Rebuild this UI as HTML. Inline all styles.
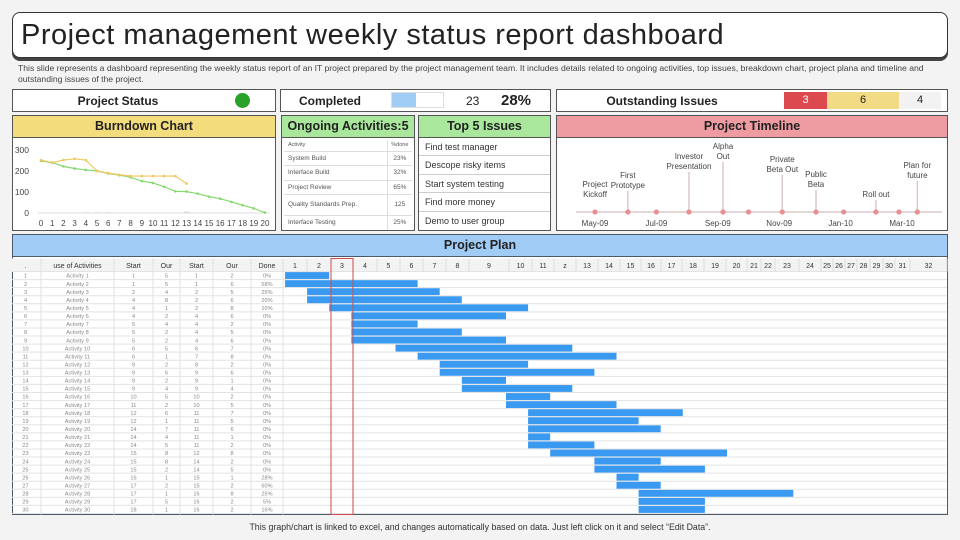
<!DOCTYPE html>
<html><head><meta charset="utf-8">
<style>
*{box-sizing:border-box;margin:0;padding:0}
body{width:960px;height:540px;overflow:hidden;background:#f3f3f3;font-family:"Liberation Sans",sans-serif;position:relative;color:#222}
.abs{position:absolute}
.box{position:absolute;background:#fff;border:1.5px solid #555}
.hdr{position:absolute;left:0;right:0;top:0;height:22px;border-bottom:1.5px solid #555;font-size:12.5px;font-weight:bold;text-align:center;line-height:21px;color:#222}
svg text{font-family:"Liberation Sans",sans-serif}
</style></head><body>
<div class="abs" style="left:12px;top:12px;width:936px;height:46px;background:#fff;border:1.5px solid #333;border-radius:8px;box-shadow:0 3px 0 #444">
<div style="position:absolute;left:8px;top:6px;font-size:29px;letter-spacing:0.5px;color:#222;white-space:nowrap">Project management weekly status report dashboard</div></div>
<div class="abs" style="left:18px;top:63px;width:930px;font-size:8.6px;line-height:10.5px;color:#444">This slide represents a dashboard representing the weekly status report of an IT project prepared by the project management team. It includes details related to ongoing activities, top issues, breakdown chart, project plana and timeline and outstanding issues of the project.</div>

<div class="box" style="left:12px;top:89px;width:264px;height:23px">
<div style="position:absolute;left:0;width:210px;top:4px;text-align:center;font-size:12px;font-weight:bold">Project Status</div>
<div style="position:absolute;left:222px;top:3px;width:15px;height:15px;border-radius:50%;background:#2aa22a"></div></div>
<div class="box" style="left:280px;top:89px;width:271px;height:23px">
<div style="position:absolute;left:18px;top:4px;font-size:12px;font-weight:bold">Completed</div>
<div style="position:absolute;left:110px;top:2px;width:53px;height:16px;border:1px solid #ddd;background:#fff"><div style="width:24px;height:100%;background:#9fcdf6"></div></div>
<div style="position:absolute;left:185px;top:4px;font-size:12px">23</div>
<div style="position:absolute;left:220px;top:2px;font-size:15px;font-weight:bold">28%</div></div>
<div class="box" style="left:556px;top:89px;width:392px;height:23px">
<div style="position:absolute;left:0;width:210px;top:4px;text-align:center;font-size:12px;font-weight:bold">Outstanding Issues</div>
<div style="position:absolute;left:227px;top:2px;width:43px;height:17px;background:#dc4a4f;color:#fff;text-align:center;font-size:11px;line-height:17px">3</div>
<div style="position:absolute;left:270px;top:2px;width:72px;height:17px;background:#f1dc85;text-align:center;font-size:11px;line-height:17px">6</div>
<div style="position:absolute;left:342px;top:2px;width:42px;height:17px;background:#f2f2f2;text-align:center;font-size:11px;line-height:17px">4</div></div>

<div class="box" style="left:12px;top:115px;width:264px;height:116px">
<div class="hdr" style="background:#f2dc7c">Burndown Chart</div>
<svg id="bd" width="264" height="94" style="position:absolute;left:-1.5px;top:21px"></svg></div>

<div class="box" style="left:281px;top:115px;width:134px;height:116px">
<div class="hdr" style="background:#a9e79d">Ongoing Activities:5</div>
<table style="position:absolute;left:2px;top:24px;width:128px;border-collapse:collapse;font-size:6.5px;color:#555">
<tr style="height:11px"><td style="border-bottom:1px solid #ddd;border-right:1px solid #ddd;padding-left:4px;font-size:5.5px">Activity</td><td style="border-bottom:1px solid #ddd;text-align:center;font-size:5.5px">%done</td></tr>
<tr style="height:14px"><td style="border-bottom:1px solid #ddd;border-right:1px solid #ddd;padding-left:4px">System Build</td><td style="border-bottom:1px solid #ddd;text-align:center">23%</td></tr>
<tr style="height:15px"><td style="border-bottom:1px solid #ddd;border-right:1px solid #ddd;padding-left:4px">Interface Build</td><td style="border-bottom:1px solid #ddd;text-align:center">32%</td></tr>
<tr style="height:14px"><td style="border-bottom:1px solid #ddd;border-right:1px solid #ddd;padding-left:4px">Project Review</td><td style="border-bottom:1px solid #ddd;text-align:center">65%</td></tr>
<tr style="height:21px"><td style="border-bottom:1px solid #ddd;border-right:1px solid #ddd;padding-left:4px">Quality Standards Prep.</td><td style="border-bottom:1px solid #ddd;text-align:center">125</td></tr>
<tr style="height:15px"><td style="border-right:1px solid #ddd;padding-left:4px">Interface Testing</td><td style="text-align:center">25%</td></tr>
</table></div>

<div class="box" style="left:418px;top:115px;width:133px;height:116px">
<div class="hdr" style="background:#a9e79d">Top 5 Issues</div>
<div style="position:absolute;left:0;right:0;top:22px;font-size:9px;color:#333">
<div style="height:18.4px;line-height:18px;padding-left:6px;border-bottom:1px solid #ccc">Find test manager</div>
<div style="height:18.4px;line-height:18px;padding-left:6px;border-bottom:1px solid #ccc">Descope risky items</div>
<div style="height:18.4px;line-height:18px;padding-left:6px;border-bottom:1px solid #ccc">Start system testing</div>
<div style="height:18.4px;line-height:18px;padding-left:6px;border-bottom:1px solid #ccc">Find more money</div>
<div style="height:18px;line-height:18px;padding-left:6px">Demo to user group</div></div></div>

<div class="box" style="left:556px;top:115px;width:392px;height:116px">
<div class="hdr" style="background:#ee9ba1">Project Timeline</div>
<svg id="tl" width="392" height="94" style="position:absolute;left:-1.5px;top:21px"></svg></div>

<div class="box" style="left:12px;top:234px;width:936px;height:281px;border-color:#4b5a6a">
<div class="hdr" style="background:#9fcbf5;border-color:#4b5a6a">Project Plan</div>
<svg id="gp" width="936" height="260" style="position:absolute;left:-1.5px;top:20.5px"></svg></div>

<div class="abs" style="left:0;width:960px;top:522px;text-align:center;font-size:8.8px;color:#333">This graph/chart is linked to excel, and changes automatically based on data. Just left click on it and select “Edit Data”.</div>

<script>
const NS='http://www.w3.org/2000/svg';
function mk(p,t,a){const e=document.createElementNS(NS,t);for(const k in a)e.setAttribute(k,a[k]);p.appendChild(e);return e;}

/* ---------- Burndown data ---------- */
const bdDays=[0,1,2,3,4,5,6,7,8,9,10,11,12,13,14,15,16,17,18,19,20];
const bdIdeal=[248,240,222,212,205,200,188,180,170,152,143,125,103,102,92,78,68,53,37,22,2];
const bdActual=[252,240,252,258,252,200,190,182,176,176,176,176,176,140];
const bdBars=[0,3,3,0,4,4,4,3,0,0,0,0,0,7];
const bdTicks=[0,100,200,300];
(function(){
const s=document.getElementById('bd');
const X=d=>29+d*11.2;
const y=v=>76-v*0.21;
bdTicks.forEach(t=>{const e=mk(s,'text',{x:17,y:y(t)+3,'text-anchor':'end','font-size':8.5,fill:'#444'});e.textContent=t;
});
mk(s,'line',{x1:26,x2:258,y1:y(0),y2:y(0),stroke:'#ddd','stroke-width':1});
bdDays.forEach(d=>{const e=mk(s,'text',{x:X(d),y:89,'text-anchor':'middle','font-size':8,fill:'#444'});e.textContent=d;
});
bdBars.forEach((v,i)=>{if(!v)return;const r=mk(s,'rect',{x:X(i)-3,y:y(v),width:6,height:v*0.21,fill:'#ddd'});
});
function line(arr,col,name){const p=mk(s,'polyline',{points:arr.map((v,i)=>X(i)+','+y(v)).join(' '),fill:'none',stroke:col,'stroke-width':1.2});

arr.forEach((v,i)=>{const c=mk(s,'circle',{cx:X(i),cy:y(v),r:1.3,fill:col});});}
line(bdIdeal,'#86d96f','ideal-line');
line(bdActual,'#f0c860','actual-line');
})();

/* ---------- Timeline data ---------- */
const tlPoints=[0,1.07,2,3.06,4.17,5,6.1,7.2,8.1,9.15,9.9,10.5];
const tlTickMonths=[0,2,4,6,8,10];
const tlTickLabels=['May-09','Jul-09','Sep-09','Nov-09','Jan-10','Mar-10'];
const tlEvents=['Project|Kickoff','First|Prototype','Investor|Presentation','Alpha|Out','Private|Beta Out','Public|Beta','Roll out','Plan  for|future'];
const tlEventMonths=[0,1.07,3.06,4.17,6.1,7.2,9.15,10.5];
const tlEventHeights=[0,21,40,50,37,22,12,31];
(function(){
const s=document.getElementById('tl');
const X=m=>39+m*30.7, base=75;
mk(s,'line',{x1:20,x2:386,y1:base,y2:base,stroke:'#e2d6d6','stroke-width':2});
tlEvents.forEach((ev,i)=>{const x=X(tlEventMonths[i]),h=tlEventHeights[i];
if(h>0){const l=mk(s,'line',{x1:x,x2:x,y1:base,y2:base-h,stroke:'#dcc8ca','stroke-width':1.5});}
const parts=ev.split('|');const lastBase=base-Math.max(h,12)-3;
parts.forEach((p,j)=>{const t=mk(s,'text',{x:x,y:lastBase-(parts.length-1-j)*10,'text-anchor':'middle','font-size':8,fill:'#444'});t.textContent=p;
});});
tlPoints.forEach(m=>{const c=mk(s,'circle',{cx:X(m),cy:base,r:2.6,fill:'#e88f96'});});
tlTickMonths.forEach((m,i)=>{const t=mk(s,'text',{x:X(m),y:89,'text-anchor':'middle','font-size':8,fill:'#444'});t.textContent=tlTickLabels[i];
});
})();

/* ---------- Project plan data ---------- */
const actNames=[];for(let i=1;i<=30;i++)actNames.push('Activity '+i);
const colStart1=[1,1,2,4,4,4,5,5,5,6,6,9,9,9,9,10,11,12,12,14,14,14,15,15,15,16,17,17,17,18];
const colOur1=[5,5,4,8,1,2,4,2,2,5,1,2,6,2,4,5,2,6,1,7,4,5,8,8,2,1,2,1,5,1];
const colStart2=[1,1,2,2,2,4,4,4,4,6,7,8,9,9,9,10,10,11,11,11,11,11,12,14,14,15,15,16,16,16];
const colOur2=[2,6,5,6,8,6,2,5,6,7,8,2,6,1,4,2,5,7,5,6,1,2,8,2,5,1,2,8,2,2];
const colDone=['0%','58%','25%','20%','10%','0%','0%','0%','0%','0%','0%','0%','0%','0%','0%','0%','0%','0%','0%','0%','0%','0%','0%','0%','0%','28%','60%','25%','5%','16%'];
const barStart=[1,1,2,2,3,4,4,4,4,6,7,8,8,9,9,11,11,12,12,12,12,12,13,15,15,16,16,17,17,17];
const barDur=[2,6,6,7,9,7,3,5,7,8,9,4,7,2,5,2,5,7,5,6,1,3,8,3,5,1,2,7,3,3];
const weekLabels=['1','2','3','4','5','6','7','8','9','10','11','z','13','14','15','16','17','18','19','20','21','22','23','24','25','26','27','28','29','30','31','32'];
const currentWeek=3;
(function(){
const s=document.getElementById('gp');
const OX=-12, OY=-254.5;
const P=(x)=>x+OX, Q=(y)=>y+OY;
const hTop=Q(257),hBot=Q(270),rH=(512-270)/30;
const tCols=[10,41,114,153,180,213,251,283];
const tHead=['.','use of Activities','Start','Our','Start','Our','Done'];
const gEdges=[283,307,331,353,377,400,423,446,469,509,532,554,576,598,620,641,661,682,704,726,747,761,775,799,821,833,845,857,870,883,895,910,947];
mk(s,'rect',{x:P(10),y:hTop,width:937,height:hBot-hTop,fill:'#f3f3f3'});
for(let i=0;i<=30;i++){mk(s,'line',{x1:P(10),x2:P(947),y1:hBot+i*rH,y2:hBot+i*rH,stroke:'#e3e3e3','stroke-width':1});}
tCols.forEach(x=>mk(s,'line',{x1:P(x),x2:P(x),y1:hTop,y2:Q(513),stroke:'#e0e0e0','stroke-width':1}));
gEdges.forEach(x=>mk(s,'line',{x1:P(x),x2:P(x),y1:hTop,y2:hBot,stroke:'#dcdcdc','stroke-width':1}));
tHead.forEach((h,i)=>{const t=mk(s,'text',{x:P((tCols[i]+tCols[i+1])/2),y:hBot-3.5,'text-anchor':'middle','font-size':7,fill:'#333'});t.textContent=h;
});
weekLabels.forEach((w,i)=>{const t=mk(s,'text',{x:P((gEdges[i]+gEdges[i+1])/2),y:hBot-3.5,'text-anchor':'middle','font-size':7,fill:'#333'});t.textContent=w;
});
const X0=285,W=22.1;
actNames.forEach((n,i)=>{const yc=hBot+i*rH+rH/2+2.2;
const vals=[i+1,n,colStart1[i],colOur1[i],colStart2[i],colOur2[i],colDone[i]];
vals.forEach((v,j)=>{const t=mk(s,'text',{x:P((tCols[j]+tCols[j+1])/2),y:yc,'text-anchor':'middle','font-size':5.6,fill:'#888'});t.textContent=v;
});
const r=mk(s,'rect',{x:P(X0+(barStart[i]-1)*W),y:hBot+i*rH+0.6,width:barDur[i]*W,height:rH-1.2,fill:'#3a99f0'});
});
const cw=currentWeek-1;
const hl=mk(s,'rect',{x:P(gEdges[cw]),y:hTop,width:gEdges[cw+1]-gEdges[cw],height:Q(513)-hTop,fill:'none',stroke:'#d24a4a','stroke-width':1});

})();
</script>
</body></html>
